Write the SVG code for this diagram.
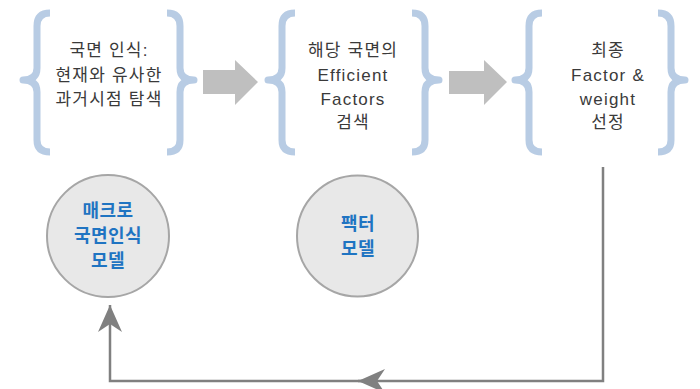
<svg xmlns="http://www.w3.org/2000/svg" width="700" height="389" viewBox="0 0 700 389">
<defs>
<style>
.brace{fill:none;stroke:#b8cce4;stroke-width:7;stroke-linecap:butt;stroke-linejoin:round}
.step{font-family:"Liberation Sans","Noto Sans CJK KR",sans-serif;font-size:17px;fill:#3a3a3a;text-anchor:middle;letter-spacing:1.2px}
.blk{fill:#bfbfbf}
.circ{fill:#e8e8e8;stroke:#a6a6a6;stroke-width:2}
.ctext{font-family:"Noto Sans CJK KR",sans-serif;font-size:18px;font-weight:bold;fill:#1f74c2;text-anchor:middle;letter-spacing:0.5px}
.conn{fill:none;stroke:#808080;stroke-width:2.5}
</style>
<path id="lb" d="M30,13 Q17,13 17,26 L17,68 Q17,80 3,80 Q17,80 17,92 L17,140 Q17,152 30,152"/>
<path id="rb" d="M-30,13 Q-17,13 -17,26 L-17,68 Q-17,80 -3,80 Q-17,80 -17,92 L-17,140 Q-17,152 -30,152"/>
<marker id="ah" markerUnits="userSpaceOnUse" viewBox="0 0 27 24" refX="27" refY="12" markerWidth="27" markerHeight="24" orient="auto">
<path d="M27,12 L0,0 L8,12 L0,24 Z" fill="#808080"/>
</marker>
</defs>
<g id="step1">
<use href="#lb" class="brace" x="20"/>
<use href="#rb" class="brace" x="197"/>
<text class="step" x="109" y="56">국면 인식:</text>
<text class="step" x="109" y="81">현재와 유사한</text>
<text class="step" x="109" y="105">과거시점 탐색</text>
</g>
<g id="arrow1"><polygon class="blk" points="203,70 235,70 235,60 258,82 235,105 235,94 203,94"/></g>
<g id="step2">
<use href="#lb" class="brace" x="265"/>
<use href="#rb" class="brace" x="442"/>
<text class="step" x="353" y="56">해당 국면의</text>
<text class="step" x="353" y="81">Efficient</text>
<text class="step" x="353" y="105">Factors</text>
<text class="step" x="353" y="128">검색</text>
</g>
<g id="arrow2"><polygon class="blk" points="449,71 484,71 484,60 507,82 484,105 484,94 449,94"/></g>
<g id="step3">
<use href="#lb" class="brace" x="512"/>
<use href="#rb" class="brace" x="688"/>
<text class="step" x="608" y="56">최종</text>
<text class="step" x="608" y="81">Factor &amp;</text>
<text class="step" x="608" y="105">weight</text>
<text class="step" x="608" y="128">선정</text>
</g>
<g id="macro">
<circle class="circ" cx="108" cy="236" r="61"/>
<text class="ctext" x="108" y="217">매크로</text>
<text class="ctext" x="108" y="242">국면인식</text>
<text class="ctext" x="108" y="267">모델</text>
</g>
<g id="factor">
<circle class="circ" cx="357.5" cy="236" r="60.5"/>
<text class="ctext" x="358" y="230">팩터</text>
<text class="ctext" x="358" y="255">모델</text>
</g>
<g id="connectors">
<path class="conn" d="M603,167 V381 H358" marker-end="url(#ah)"/>
<path class="conn" d="M370,381 H110 V305" marker-end="url(#ah)"/>
</g>
</svg>
